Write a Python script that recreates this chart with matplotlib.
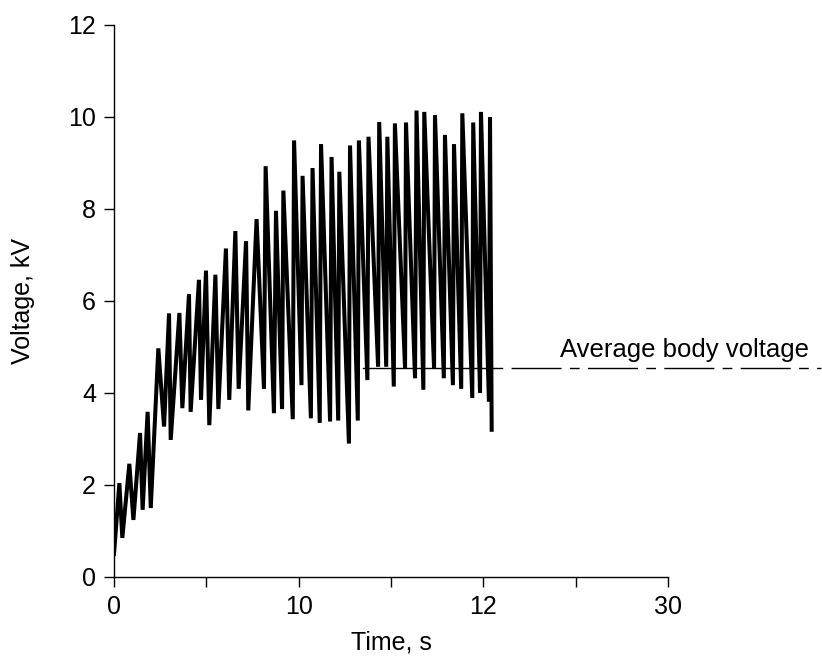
import matplotlib
matplotlib.use("Agg")
import matplotlib.pyplot as plt

plt.rcParams["font.family"] = ["Liberation Sans", "DejaVu Sans"]

# ── data (time s, voltage kV) ─────────────────────────────
time_s = [0.00, 0.29, 0.45, 0.83, 1.05, 1.41, 1.55, 1.82, 1.99, 2.40,
          2.71, 2.98, 3.07, 3.54, 3.70, 4.06, 4.15, 4.60, 4.71, 4.98,
          5.16, 5.49, 5.65, 6.06, 6.24, 6.57, 6.75, 7.15, 7.27, 7.72,
          8.12, 8.21, 8.66, 8.77, 9.10, 9.17, 9.68, 9.75, 10.15, 10.21,
          10.66, 10.75, 11.14, 11.21, 11.70, 11.78, 12.14, 12.20, 12.72, 12.78,
          13.20, 13.26, 13.72, 13.78, 14.30, 14.36, 14.74, 14.80, 15.15, 15.21,
          15.76, 15.81, 16.30, 16.38, 16.75, 16.80, 17.33, 17.38, 17.86, 17.92,
          18.35, 18.41, 18.80, 18.86, 19.40, 19.45, 19.82, 19.87, 20.30, 20.36,
          20.45]
voltage_kv = [0.50, 2.04, 0.85, 2.46, 1.24, 3.13, 1.46, 3.59, 1.50, 4.97,
              3.27, 5.73, 2.98, 5.74, 3.67, 6.15, 3.59, 6.46, 3.85, 6.66,
              3.30, 6.57, 3.65, 7.14, 3.85, 7.52, 4.09, 7.30, 3.62, 7.78,
              4.09, 8.93, 3.56, 7.96, 3.65, 8.40, 3.43, 9.49, 4.17, 8.72,
              3.45, 8.89, 3.35, 9.41, 3.38, 9.13, 3.40, 8.81, 2.90, 9.38,
              3.40, 9.49, 4.28, 9.57, 4.57, 9.89, 4.57, 9.57, 4.14, 9.86,
              4.54, 9.88, 4.32, 10.14, 4.07, 10.11, 4.54, 10.04, 4.32, 9.61,
              4.17, 9.41, 4.09, 10.08, 3.89, 9.88, 4.00, 10.11, 3.81, 9.99,
              3.20]

avg_voltage = 4.55
avg_start, avg_solid_end, avg_end = 13.5, 20.5, 38.3

x_ticks = [0, 5, 10, 15, 20, 25, 30]
x_tick_labels = ["0", "", "10", "", "12", "", "30"]
y_ticks = [0, 2, 4, 6, 8, 10, 12]

# ── figure ────────────────────────────────────────────────
fig = plt.figure(figsize=(8.22, 6.57), dpi=100)
ax = fig.add_axes([0.1387, 0.1218, 0.674, 0.8402])

ax.plot(time_s, voltage_kv, color="black", lw=2.9, solid_joinstyle="miter")

# average body voltage marker
ax.plot([avg_start, avg_solid_end], [avg_voltage, avg_voltage],
        color="black", lw=1.0, clip_on=False)
dash, = ax.plot([avg_solid_end, avg_end], [avg_voltage, avg_voltage],
                color="black", lw=1.0, clip_on=False)
dash.set_dashes([7, 6, 36, 6])
ax.text(24.15, avg_voltage + 0.23, "Average body voltage",
        fontsize=18.5, ha="left", va="baseline")

ax.set_xlim(0, 30)
ax.set_ylim(0, 12)
ax.set_xticks(x_ticks)
ax.set_xticklabels(x_tick_labels)
ax.set_yticks(y_ticks)
ax.tick_params(direction="out", length=7, width=1.0, labelsize=18, pad=6)

for side in ["top", "right"]:
    ax.spines[side].set_visible(False)
for side in ["left", "bottom"]:
    ax.spines[side].set_linewidth(1.0)

ax.set_xlabel("Time, s", fontsize=18, labelpad=8)
ax.set_ylabel("Voltage, kV", fontsize=18, labelpad=24)

plt.savefig("out.png", dpi=100)
